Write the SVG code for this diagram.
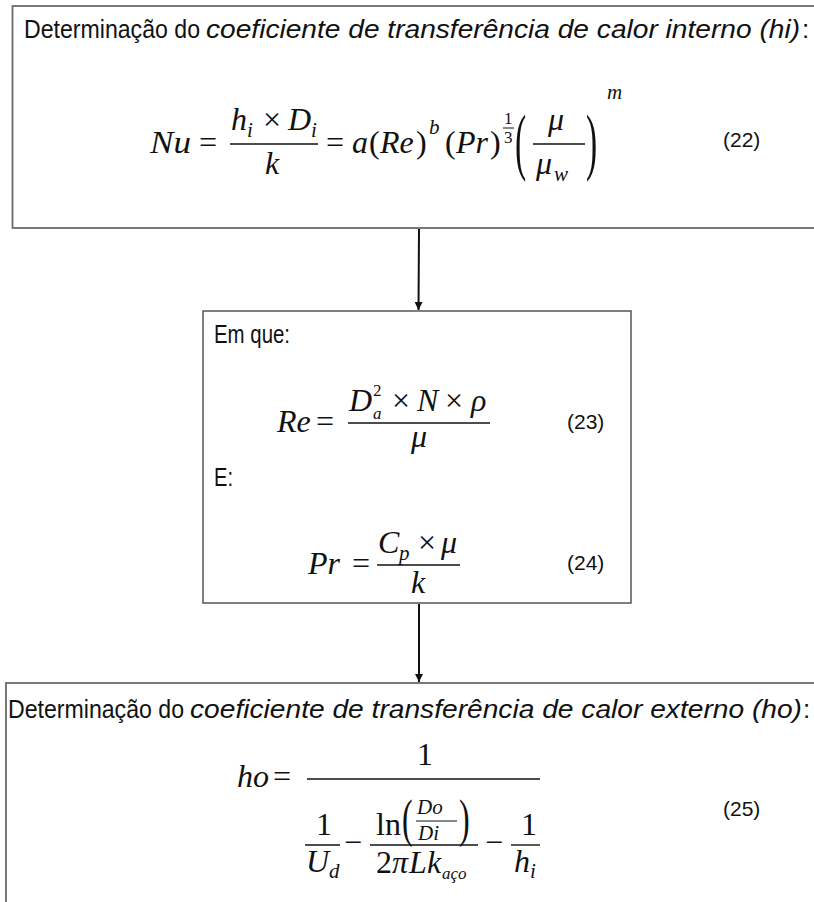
<svg xmlns="http://www.w3.org/2000/svg" width="814" height="902" viewBox="0 0 814 902">
<style>
.box{fill:#ffffff;stroke:#6b6b6b;stroke-width:1.8}
.t{font-family:"Liberation Sans",Arial,sans-serif;font-size:26px;fill:#111}
.ti{font-style:italic}
.m{font-family:"Liberation Serif","Times New Roman",serif;font-style:italic;font-size:32px;fill:#111}
.r{font-family:"Liberation Serif","Times New Roman",serif;font-size:32px;fill:#111}
.s{font-size:21px}
.ss{font-size:17px}
.n{font-family:"Liberation Sans",Arial,sans-serif;font-size:21px;fill:#111}
.bar{stroke:#111;stroke-width:1.4}
.conn{stroke:#111;stroke-width:2;fill:none}
</style>
<defs>
<marker id="arr" viewBox="0 0 10 10" refX="10" refY="5" markerWidth="4" markerHeight="4" orient="auto" markerUnits="strokeWidth">
<path d="M0,0 L10,5 L0,10 z" fill="#111"/>
</marker>
</defs>

<g id="node-hi">
<rect class="box" x="12.5" y="6" width="820" height="222"/>
<text class="t" x="24" y="38" textLength="176" lengthAdjust="spacingAndGlyphs">Determinação do</text>
<text class="t ti" x="206" y="38" textLength="594" lengthAdjust="spacingAndGlyphs">coeficiente de transferência de calor interno (hi)</text>
<text class="t" x="802" y="38">:</text>
<text class="m" x="150" y="153" textLength="41" lengthAdjust="spacingAndGlyphs">Nu</text>
<text class="r" x="199" y="153">=</text>
<text class="m" x="231" y="130">h</text>
<text class="m s" x="247" y="137">i</text>
<text class="r" x="263" y="130">×</text>
<text class="m" x="288" y="130">D</text>
<text class="m s" x="311" y="137">i</text>
<line class="bar" x1="230" y1="144" x2="318" y2="144"/>
<text class="m" x="265" y="174">k</text>
<text class="r" x="326" y="153">=</text>
<text class="m" x="352" y="153">a</text>
<text class="r" x="369" y="153">(</text>
<text class="m" x="380" y="153">Re</text>
<text class="r" x="416" y="153">)</text>
<text class="m s" x="429" y="134">b</text>
<text class="r" x="445" y="153">(</text>
<text class="m" x="456" y="153">Pr</text>
<text class="r" x="490" y="153">)</text>
<text class="r ss" x="504" y="124">1</text>
<line class="bar" x1="503" y1="128" x2="514" y2="128" style="stroke-width:1"/>
<text class="r ss" x="504" y="143">3</text>
<text class="r" transform="translate(515,166) scale(1.05,2.3)">(</text>
<text class="m" x="548" y="130">μ</text>
<line class="bar" x1="533" y1="144" x2="585" y2="144"/>
<text class="m" x="536" y="174">μ</text>
<text class="m s" x="554" y="181">w</text>
<text class="r" transform="translate(586,166) scale(1.05,2.3)">)</text>
<text class="m s" x="607" y="99">m</text>
<text class="n" x="723" y="147">(22)</text>
</g>

<g id="node-re-pr">
<rect class="box" x="203" y="311" width="428" height="292" style="stroke:#555;stroke-width:1.5"/>
<text class="t" x="214" y="343" textLength="76" lengthAdjust="spacingAndGlyphs">Em que:</text>
<text class="m" x="277" y="432">Re</text>
<text class="r" x="316" y="432">=</text>
<text class="m" x="349" y="411">D</text>
<text class="m ss" x="373" y="419">a</text>
<text class="r ss" x="373" y="396">2</text>
<text class="r" x="392" y="411">×</text>
<text class="m" x="417" y="411">N</text>
<text class="r" x="445" y="411">×</text>
<text class="m" x="471" y="411">ρ</text>
<line class="bar" x1="348" y1="423" x2="490" y2="423"/>
<text class="m" x="411" y="447">μ</text>
<text class="n" x="567" y="429">(23)</text>
<text class="t" x="214" y="486" textLength="19" lengthAdjust="spacingAndGlyphs">E:</text>
<text class="m" x="308" y="574">Pr</text>
<text class="r" x="352" y="574">=</text>
<text class="m" x="378" y="553">C</text>
<text class="m s" x="399" y="560">p</text>
<text class="r" x="418" y="553">×</text>
<text class="m" x="441" y="553">μ</text>
<line class="bar" x1="377" y1="565" x2="460" y2="565"/>
<text class="m" x="411" y="593">k</text>
<text class="n" x="567" y="570">(24)</text>
</g>

<g id="node-ho">
<rect class="box" x="6" y="683" width="830" height="240"/>
<text class="t" x="8" y="718" textLength="176" lengthAdjust="spacingAndGlyphs">Determinação do</text>
<text class="t ti" x="190" y="718" textLength="612" lengthAdjust="spacingAndGlyphs">coeficiente de transferência de calor externo (ho)</text>
<text class="t" x="803" y="718">:</text>
<text class="m" x="237" y="787">ho</text>
<text class="r" x="273" y="787">=</text>
<text class="r" x="417" y="765">1</text>
<line class="bar" x1="307" y1="779" x2="540" y2="779"/>
<text class="r" x="316" y="835">1</text>
<line class="bar" x1="305" y1="845" x2="340" y2="845"/>
<text class="m" x="306" y="872">U</text>
<text class="m s" x="329" y="878">d</text>
<text class="r" x="344" y="853">−</text>
<text class="r" x="376" y="835">ln</text>
<text class="r" transform="translate(402,836) scale(1,1.65)">(</text>
<text class="m" x="417" y="814" style="font-size:21px">Do</text>
<line class="bar" x1="416" y1="821" x2="457" y2="821" style="stroke-width:1.1"/>
<text class="m" x="418" y="840" style="font-size:21px">Di</text>
<text class="r" transform="translate(459,836) scale(1,1.65)">)</text>
<line class="bar" x1="370" y1="845" x2="478" y2="845"/>
<text class="r" x="376" y="873">2</text>
<text class="m" x="392" y="873">π</text>
<text class="m" x="409" y="873">L</text>
<text class="m" x="427" y="873">k</text>
<text class="m ss" x="442" y="879">aço</text>
<text class="r" x="485" y="853">−</text>
<text class="r" x="521" y="835">1</text>
<line class="bar" x1="511" y1="845" x2="540" y2="845"/>
<text class="m" x="514" y="872">h</text>
<text class="m s" x="530" y="878">i</text>
<text class="n" x="723" y="816">(25)</text>
</g>

<g id="connectors">
<line class="conn" x1="419" y1="229" x2="418.5" y2="310" marker-end="url(#arr)"/>
<line class="conn" x1="419" y1="604" x2="419" y2="682" marker-end="url(#arr)"/>
</g>
</svg>
